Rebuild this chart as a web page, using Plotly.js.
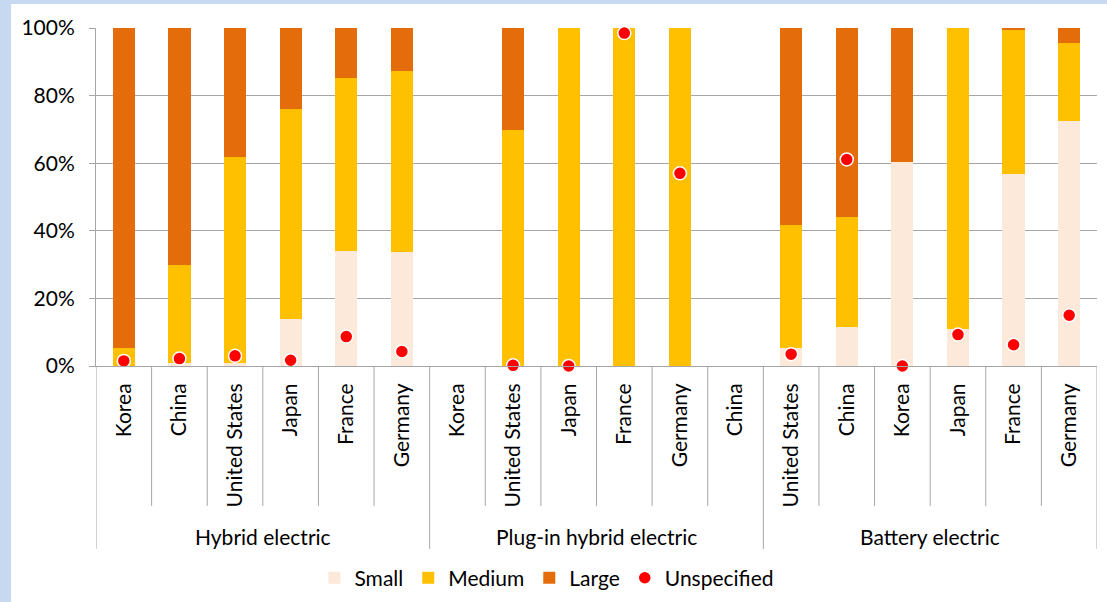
<!DOCTYPE html>
<html>
<head>
<meta charset="utf-8">
<script src="https://cdn.plot.ly/plotly-3.0.1.min.js"></script>
<style>
  html, body { margin: 0; padding: 0; background: #c6d9f1; width: 1107px; height: 602px; overflow: hidden; }
  #chart { position: absolute; left: 11px; top: 4px; width: 1096px; height: 598px; background: #ffffff; }
</style>
</head>
<body>
<div id="chart"></div>
<script>
// ---- Data ----
const groups = ['Hybrid electric', 'Plug-in hybrid electric', 'Battery electric'];
const hybridCountries  = ['Korea', 'China', 'United States', 'Japan', 'France', 'Germany'];
const pluginCountries  = ['Korea', 'United States', 'Japan', 'France', 'Germany', 'China'];
const batteryCountries = ['United States', 'China', 'Korea', 'Japan', 'France', 'Germany'];

// shares in percent
const hybridSmall   = [0, 0.9, 0.9, 14.0, 34.1, 33.8];
const hybridMedium  = [5.3, 28.9, 61.0, 61.9, 51.2, 53.5];
const hybridLarge   = [94.7, 70.2, 38.1, 24.1, 14.7, 12.7];
const hybridUnspec  = [1.5, 2.2, 3.0, 1.7, 8.7, 4.3];

const pluginSmall   = [0, 0, 0, 0, 0, 0];
const pluginMedium  = [0, 69.8, 100, 100, 100, 0];
const pluginLarge   = [0, 30.2, 0, 0, 0, 0];
const pluginUnspec  = [null, 0.2, 0, 98.5, 57.0, null];

const batterySmall  = [5.2, 11.4, 60.3, 10.9, 56.9, 72.5];
const batteryMedium = [36.5, 32.7, 0, 89.1, 42.5, 23.1];
const batteryLarge  = [58.3, 55.9, 39.7, 0, 0.6, 4.4];
const batteryUnspec = [3.5, 61.1, 0, 9.3, 6.3, 15.0];

const seriesNames = ['Small', 'Medium', 'Large', 'Unspecified'];
const colors = { Small: '#fde9d9', Medium: '#ffc000', Large: '#e46c0a', Unspecified: '#ff0000' };

// ---- Build category keys ----
const countryLists = [hybridCountries, pluginCountries, batteryCountries];
const keys = [], labels = [];
countryLists.forEach((list, gi) => list.forEach(c => { keys.push(groups[gi] + ' | ' + c); labels.push(c); }));
const pct = a => a.map(v => v === null ? null : v / 100);

const small  = pct([].concat(hybridSmall, pluginSmall, batterySmall));
const medium = pct([].concat(hybridMedium, pluginMedium, batteryMedium));
const large  = pct([].concat(hybridLarge, pluginLarge, batteryLarge));
const unspec = pct([].concat(hybridUnspec, pluginUnspec, batteryUnspec));

const FONT = 'Lato, "Open Sans", sans-serif';
const FS = 21;
const GRID = '#a6a6a6';

const traces = [
  { type: 'bar', name: seriesNames[0], x: keys, y: small,  marker: { color: colors.Small } },
  { type: 'bar', name: seriesNames[1], x: keys, y: medium, marker: { color: colors.Medium } },
  { type: 'bar', name: seriesNames[2], x: keys, y: large,  marker: { color: colors.Large } },
  { type: 'scatter', mode: 'markers', name: seriesNames[3], x: keys, y: unspec,
    marker: { color: colors.Unspecified, size: 13, line: { color: '#ffffff', width: 1.5 } }, cliponaxis: false }
];

// ---- separators & group labels ----
const shapes = [];
const annotations = [];
let start = 0;
countryLists.forEach((list, gi) => {
  for (let i = 1; i < list.length; i++) {
    shapes.push({ type: 'line', xref: 'x', yref: 'paper', x0: start + i - 0.5, x1: start + i - 0.5, y0: 0, y1: -0.414,
                  line: { color: GRID, width: 1 } });
  }
  annotations.push({ xref: 'x', yref: 'paper', x: start + (list.length - 1) / 2, y: -0.503, yanchor: 'middle',
                     text: groups[gi], showarrow: false, font: { family: FONT, size: FS, color: '#000' } });
  start += list.length;
});
let b = 0;
const groupBounds = [ -0.5 ];
countryLists.forEach(list => { b += list.length; groupBounds.push(b - 0.5); });
groupBounds.forEach(v => shapes.push({ type: 'line', xref: 'x', yref: 'paper', x0: v, x1: v, y0: 0, y1: -0.541,
                                        line: { color: GRID, width: 1 } }));

const layout = {
  width: 1096, height: 598,
  margin: { l: 85, r: 10, t: 24, b: 236, autoexpand: false },
  paper_bgcolor: '#ffffff', plot_bgcolor: '#ffffff',
  font: { family: FONT, size: FS, color: '#000' },
  barmode: 'stack', bargap: 0.6,
  showlegend: true,
  legend: { orientation: 'h', xref: 'container', yref: 'container', x: 0.489, xanchor: 'center', y: 0.040, yanchor: 'middle',
            traceorder: 'normal', font: { family: FONT, size: FS, color: '#000' }, itemwidth: 30 },
  xaxis: {
    type: 'category', range: [-0.5, keys.length - 0.5],
    tickvals: keys, ticktext: labels, tickangle: -90,
    ticks: '', showline: true, linecolor: GRID, linewidth: 1, showgrid: false, zeroline: false,
    tickfont: { family: FONT, size: FS, color: '#000' }, ticklabelstandoff: 8, fixedrange: true
  },
  yaxis: {
    range: [0, 1], tickvals: [0, 0.2, 0.4, 0.6, 0.8, 1], tickformat: '.0%',
    showgrid: true, gridcolor: GRID, gridwidth: 1, zeroline: false,
    showline: true, linecolor: GRID, linewidth: 1, ticks: 'outside', ticklen: 6, tickcolor: GRID,
    tickfont: { family: FONT, size: FS, color: '#000' }, ticklabelstandoff: 10, fixedrange: true
  },
  shapes: shapes,
  annotations: annotations
};

Plotly.newPlot('chart', traces, layout, { displayModeBar: false, staticPlot: true });
</script>
</body>
</html>
